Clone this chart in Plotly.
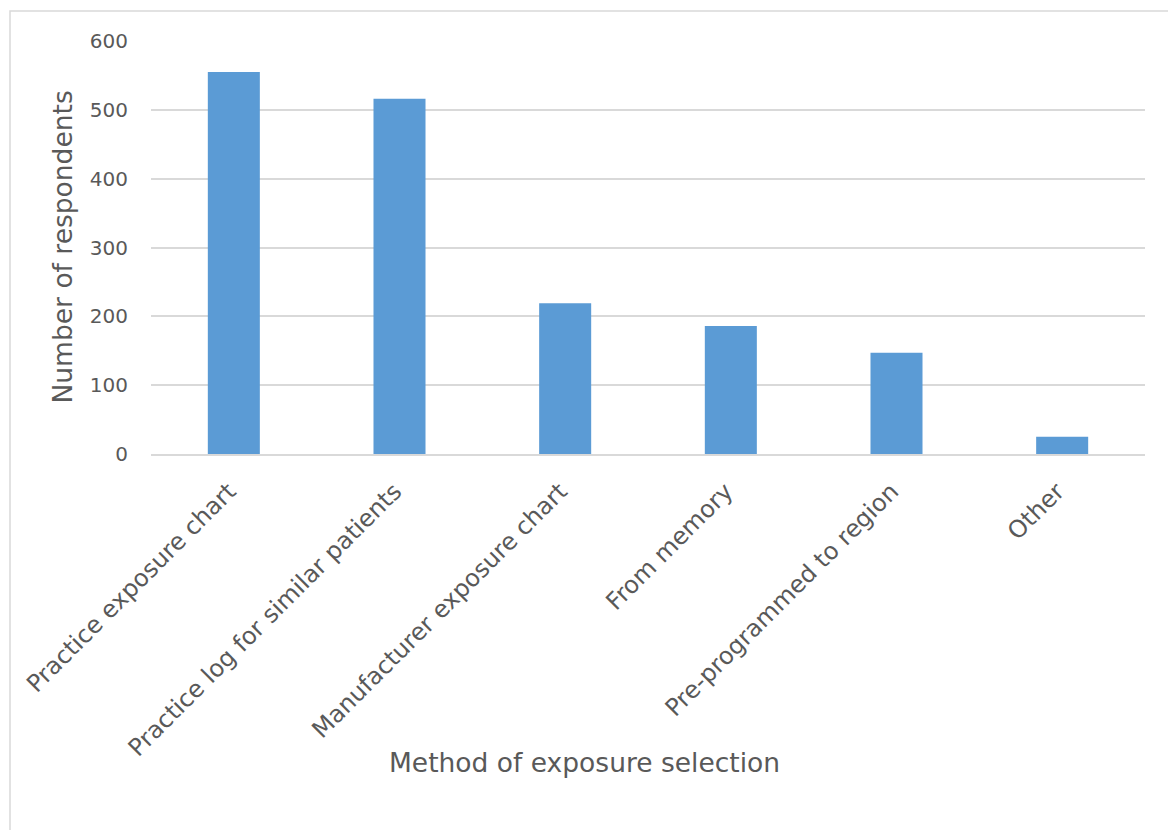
import plotly.graph_objects as go

categories = ["Practice exposure chart", "Practice log for similar patients",
              "Manufacturer exposure chart", "From memory",
              "Pre-programmed to region", "Other"]
respondents = [555, 516, 219, 186, 147, 25]
y_ticks = [0, 100, 200, 300, 400, 500, 600]

W, H = 1168, 830
L, R, T, B = 151, 23, 41, 376
PW, PH = W - L - R, H - T - B

fig = go.Figure(go.Bar(x=categories, y=respondents, marker_color="#5b9bd5",
                       marker_line_width=0))

font = "DejaVu Sans, Verdana, sans-serif"
fig.update_layout(
    width=W, height=H,
    margin=dict(l=L, r=R, t=T, b=B, autoexpand=False),
    paper_bgcolor="white", plot_bgcolor="white",
    bargap=0.686,
    showlegend=False,
    font=dict(family=font, color="#595959"),
    xaxis=dict(tickangle=-45, tickfont=dict(size=24, color="#595959"),
               showline=True, linecolor="#d9d9d9", linewidth=1.5,
               ticks="", automargin=False, ticklabelstandoff=12, ticklabelshift=-5),
    yaxis=dict(range=[0, 600], tickvals=y_ticks, tickfont=dict(size=20, color="#595959"),
               showgrid=True, gridcolor="#d9d9d9", gridwidth=1.5,
               zeroline=False, ticks="", ticklabelstandoff=22, automargin=False),
)
# chart border
fig.add_shape(type="rect", xref="paper", yref="paper",
              x0=(10 - L) / PW, x1=(W + 20 - L) / PW,
              y0=-(H + 20 - T - PH) / PH, y1=(H - B - 11) / PH,
              line=dict(color="#d9d9d9", width=1.5), fillcolor="rgba(0,0,0,0)", layer="below")
fig.add_annotation(text="Number of respondents", xref="paper", yref="paper",
                   x=(62 - L) / PW, y=0.5, textangle=-90, showarrow=False,
                   xanchor="center", yanchor="middle",
                   font=dict(size=26.5, color="#595959", family=font))
fig.add_annotation(text="Method of exposure selection", xref="paper", yref="paper",
                   x=(584 - L) / PW, y=-(762 - (H - B)) / PH,
                   xanchor="center", yanchor="middle",
                   showarrow=False, font=dict(size=26.5, color="#595959", family=font))
fig.write_html("out.html")
